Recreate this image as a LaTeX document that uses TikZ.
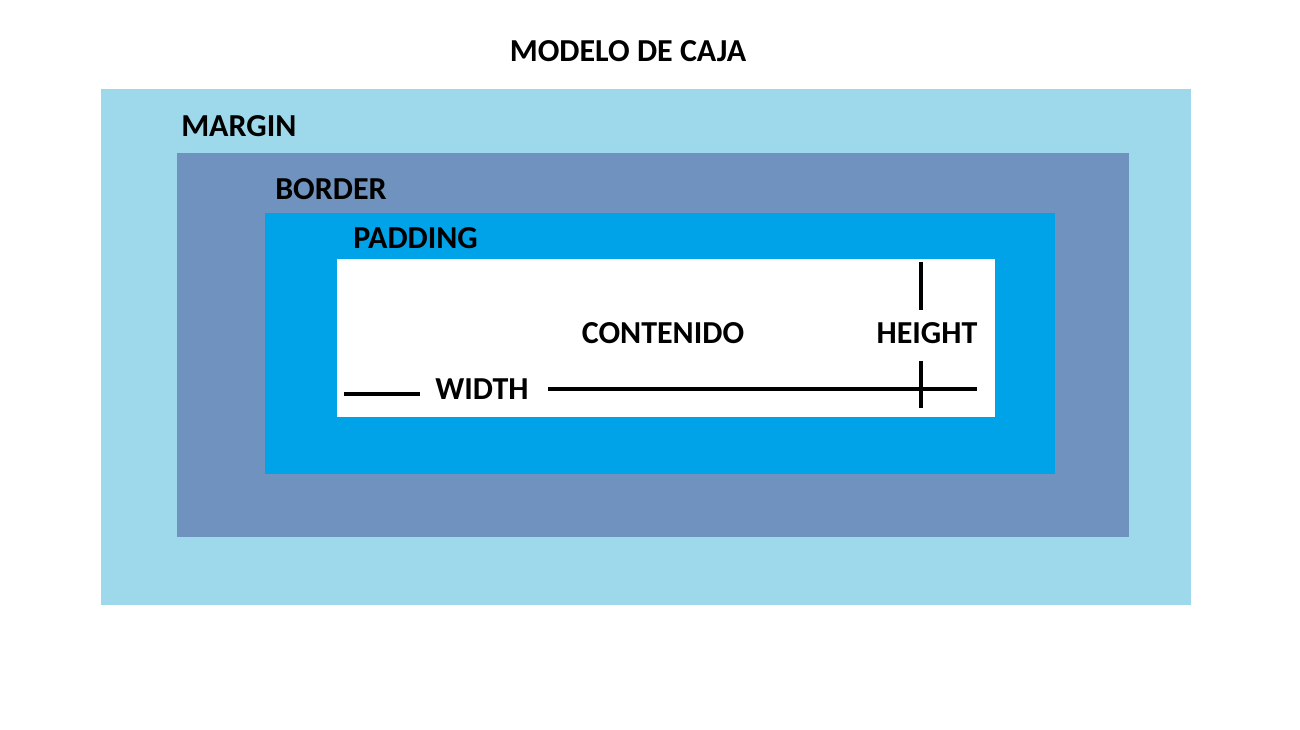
\documentclass[tikz,border=0pt]{standalone}
\usepackage{fontspec}
\setmainfont{Carlito}
\definecolor{marginc}{RGB}{157,217,234}
\definecolor{borderc}{RGB}{112,146,190}
\definecolor{paddingc}{RGB}{0,162,232}
\begin{document}
\begin{tikzpicture}[x=0.75pt,y=-0.75pt,
  lbl/.style={font=\bfseries\fontsize{24}{28}\selectfont, inner sep=0pt, text=black},
  dimline/.style={line width=2.4pt, black}]
\useasboundingbox (0,0) rectangle (1300,730);
\fill[white] (0,0) rectangle (1300,730);
% boxes
\fill[marginc] (101,89) rectangle (1191,605);
\fill[borderc] (177,153) rectangle (1129,537);
\fill[paddingc] (265,213) rectangle (1055,474);
\fill[white] (337,259) rectangle (995,417);
% labels
\node[lbl] (title) at (628,51) {MODELO DE CAJA};
\node[lbl, anchor=west] (margin) at (181,126) {MARGIN};
\node[lbl, anchor=west] (border) at (275,189) {BORDER};
\node[lbl, anchor=west] (padding) at (353,238) {PADDING};
\node[lbl] (contenido) at (663,333) {CONTENIDO};
\node[lbl] (height) at (927,333) {HEIGHT};
\node[lbl] (width) at (482,389) {WIDTH};
% dimension lines
\coordinate (wl1) at (344,394);
\coordinate (wl2) at (420,394);
\coordinate (wr1) at (548,389);
\coordinate (wr2) at (977,389);
\coordinate (ht1) at (921,262);
\coordinate (ht2) at (921,310);
\coordinate (hb1) at (921,361);
\coordinate (hb2) at (921,408);
\draw[dimline] (wl1) -- (wl2);
\draw[dimline] (wr1) -- (wr2);
\draw[dimline] (ht1) -- (ht2);
\draw[dimline] (hb1) -- (hb2);
\end{tikzpicture}
\end{document}
